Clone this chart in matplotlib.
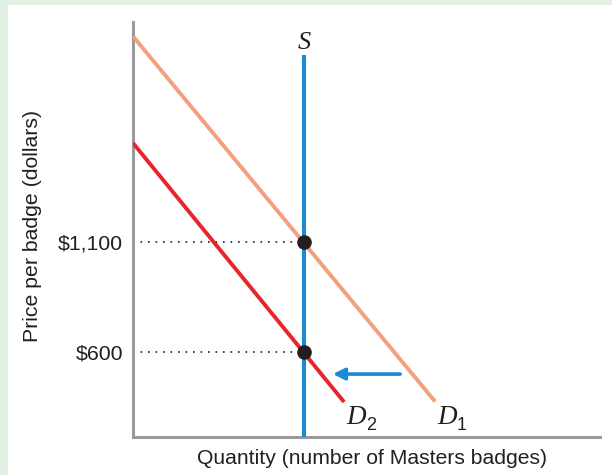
import matplotlib
matplotlib.use("Agg")
import matplotlib.pyplot as plt
from matplotlib.patches import Rectangle

# ---- data ----
q_d1 = [0.0, 64.7]
p_d1 = [2035.0, 375.0]
q_d2 = [0.0, 45.2]
p_d2 = [1550.0, 373.0]
q_s = 36.6
p_s = [214.0, 1950.0]
eq_prices = [1100, 600]
tick_labels = ["$1,100", "$600"]
arrow_from = (57.2, 500.0)
arrow_to = (42.8, 500.0)

plt.rcParams['font.family'] = ['Liberation Sans', 'DejaVu Sans']

W, H = 612, 475
fig = plt.figure(figsize=(W / 100, H / 100), dpi=100)
fig.patch.set_facecolor('#e1f1e6')
fig.patches.append(Rectangle((8 / W, 0), 1, 470 / H, transform=fig.transFigure,
                             facecolor='white', edgecolor='none', zorder=-5))

ax = fig.add_axes([133 / W, (H - 437) / H, (600 - 133) / W, (437 - 22) / H])
ax.set_zorder(1)
ax.set_facecolor('none')
ax.set_xlim(0, 100)
ax.set_ylim(214, 2100)

gray = '#9a9a9b'
for s in ['top', 'right']:
    ax.spines[s].set_visible(False)
for s in ['left', 'bottom']:
    ax.spines[s].set_color(gray)
    ax.spines[s].set_linewidth(2.2)

ax.set_xticks([])
ax.set_yticks(eq_prices)
ax.set_yticklabels(tick_labels, fontsize=15.3, color='#231f20')
ax.tick_params(axis='y', length=0, pad=7)

# dotted guides
for p in eq_prices:
    ax.plot([0, q_s], [p, p], color='#231f20', lw=1.2, ls=(0, (1, 3.5)), zorder=2)

ax.plot(q_d1, p_d1, color='#f4a07f', lw=2.8, solid_capstyle='butt', zorder=3)
ax.plot(q_d2, p_d2, color='#e8242c', lw=2.8, solid_capstyle='butt', zorder=3)
ax.plot([q_s, q_s], p_s, color='#1a8ad4', lw=2.9, solid_capstyle='butt', zorder=4)

ax.plot([q_s] * len(eq_prices), eq_prices, 'o', color='#231f20', ms=9.5, zorder=5)

ax.annotate('', xy=arrow_to, xytext=arrow_from,
            arrowprops=dict(arrowstyle='-|>', color='#1a8ad4', lw=2.6,
                            mutation_scale=17, shrinkA=0, shrinkB=0))

ax.text(q_s, 2004, 'S', fontsize=19, fontstyle='italic', family='Liberation Serif',
        ha='center', va='center', color='#231f20')

# demand curve labels: italic D with sans-serif subscript
for xd, xs, sub in [(45.6, 50.0, '2'), (65.1, 69.3, '1')]:
    ax.text(xd, 273, 'D', fontsize=19.5, fontstyle='italic', family='Liberation Serif',
            ha='left', va='baseline', color='#231f20')
    ax.text(xs, 245, sub, fontsize=13, ha='left', va='baseline', color='#231f20')

fig.text(372 / W, 1 - 458 / H, 'Quantity (number of Masters badges)', fontsize=15.2,
         ha='center', va='center', color='#231f20')
fig.text(33 / W, 1 - 226 / H, 'Price per badge (dollars)', fontsize=15.3, rotation=90,
         ha='center', va='center', color='#231f20')

fig.savefig('out.png', dpi=100, facecolor=fig.get_facecolor())
